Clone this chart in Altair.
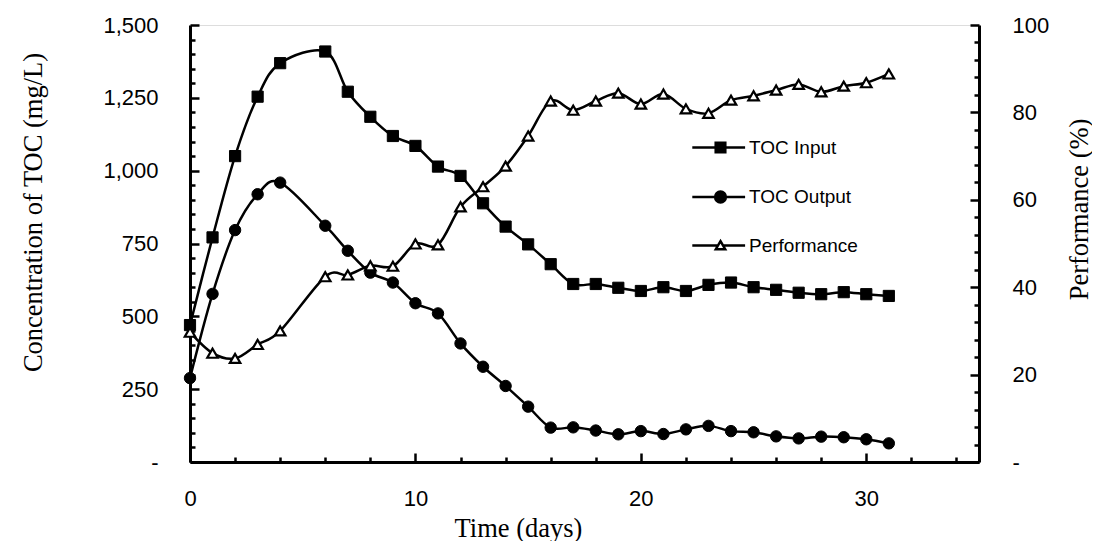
import altair as alt
import pandas as pd

# ---- data ----
days = [0, 1, 2, 3, 4, 6, 7, 8, 9, 10, 11, 12, 13, 14, 15, 16, 17, 18, 19, 20,
        21, 22, 23, 24, 25, 26, 27, 28, 29, 30, 31]
toc_input = [470, 771, 1050, 1254, 1369, 1409, 1271, 1185, 1119, 1085, 1014, 982,
             888, 808, 747, 679, 611, 611, 598, 587, 600, 587, 608, 616, 600, 591,
             581, 576, 583, 576, 570]
toc_output = [288, 577, 796, 919, 959, 811, 725, 650, 616, 545, 510, 407, 327, 261,
              190, 118, 119, 108, 95, 106, 96, 112, 124, 106, 102, 88, 81, 87, 85,
              78, 64]
performance = [29.7, 24.9, 23.7, 26.9, 30.0, 42.4, 42.8, 44.9, 44.8, 49.9, 49.7,
               58.4, 63.0, 67.7, 74.6, 82.6, 80.5, 82.6, 84.4, 81.9, 84.2, 80.8,
               79.8, 82.8, 83.8, 85.1, 86.4, 84.7, 86.0, 86.8, 88.8]
series_names = ["TOC Input", "TOC Output", "Performance"]

n = len(days)
toc_df = pd.DataFrame({
    "day": days + days,
    "value": toc_input + toc_output,
    "series": [series_names[0]] * n + [series_names[1]] * n,
})
perf_df = pd.DataFrame({"day": days, "value": performance, "series": series_names[2]})

LABEL_FONT = "Liberation Sans"
TITLE_FONT = "Liberation Serif"

common_axis = dict(
    grid=False, domainColor="black", domainWidth=3, tickColor="black", tickWidth=2.5,
    labelFont=LABEL_FONT, labelFontSize=22, labelColor="black", labelFlush=False,
    labelOverlap=False, titleFont=TITLE_FONT, titleFontSize=26.5,
    titleFontWeight="normal", titleColor="black",
)

x_axis = alt.Axis(
    values=list(range(0, 35, 2)),
    labelExpr="datum.value % 10 === 0 ? datum.label : ''",
    tickSize={"expr": "datum.value % 10 === 0 ? -9 : -5"},
    labelPadding=35, title="Time (days)",
    titleX=328, titleY=74, titleBaseline="alphabetic", titleAlign="center", titleAngle=0,
    **common_axis,
)
yl_axis = alt.Axis(
    values=list(range(0, 1501, 50)),
    labelExpr="datum.value % 250 === 0 ? (datum.value === 0 ? '-' : format(datum.value, ',')) : ''",
    tickSize={"expr": "datum.value % 250 === 0 ? -9 : -5"},
    labelPadding=41, orient="left", title="Concentration of TOC (mg/L)",
    titleX=-157, titleY=187, titleAngle=270, titleBaseline="middle", titleAlign="center",
    **common_axis,
)
yr_axis = alt.Axis(
    values=list(range(0, 101, 4)),
    labelExpr="datum.value % 20 === 0 ? (datum.value === 0 ? '-' : datum.label) : ''",
    tickSize={"expr": "datum.value % 20 === 0 ? -9 : -5"},
    labelPadding=42, orient="right", title="Performance (%)",
    titleX=108, titleY=184, titleAngle=270, titleBaseline="alphabetic", titleAlign="center",
    **common_axis,
)

X = alt.X("day:Q", scale=alt.Scale(domain=[0, 35], nice=False, zero=False), axis=x_axis)
YL = alt.Y("value:Q", scale=alt.Scale(domain=[0, 1500], nice=False), axis=yl_axis)
YR = alt.Y("value:Q", scale=alt.Scale(domain=[0, 100], nice=False), axis=yr_axis)

# legend glyphs: a line with the marker in the middle
SQ = "M-4.7,0H4.1M-0.8,-0.8H0.8V0.8H-0.8Z"
CI = "M-4.7,0H4.1M0.9,0A0.9,0.9,0,1,1,-0.9,0A0.9,0.9,0,1,1,0.9,0Z"
TR = "M-4.7,0H-0.42M0.42,0H4.1M0,-0.72L0.78,0.62H-0.78Z"

legend = alt.Legend(
    orient="none", legendX=521, legendY=113, title=None, padding=0,
    rowPadding=28.5, symbolSize=144, labelOffset=19, labelFont=LABEL_FONT,
    labelFontSize=19, labelColor="black", labelLimit=400,
    symbolStrokeColor="black", symbolStrokeWidth=2.5, symbolOpacity=1,
)

toc_base = alt.Chart(toc_df)
toc_line = toc_base.mark_line(color="black", strokeWidth=2.5, interpolate="cardinal").encode(
    x=X, y=YL, detail="series:N")
in_pts = toc_base.transform_filter(alt.datum.series == series_names[0]).mark_point(
    shape="square", size=125, fill="black", stroke="black", strokeWidth=1, opacity=1
).encode(x=X, y=YL)
out_pts = toc_base.transform_filter(alt.datum.series == series_names[1]).mark_point(
    shape="circle", size=130, fill="black", stroke="black", strokeWidth=1, opacity=1
).encode(x=X, y=YL)

perf_base = alt.Chart(perf_df)
perf_line = perf_base.mark_line(color="black", strokeWidth=2.5, interpolate="cardinal").encode(
    x=X, y=YR)
perf_pts = perf_base.mark_point(
    shape="triangle-up", size=110, fill="white", stroke="black", strokeWidth=2.2, opacity=1
).encode(x=X, y=YR)

# legend-only layer (no marks drawn, only its legend)
legend_layer = alt.Chart(perf_df).transform_filter("false").mark_point(
    strokeWidth=2.5, opacity=1
).encode(
    shape=alt.Shape("series:N", scale=alt.Scale(domain=series_names, range=[SQ, CI, TR]),
                    legend=legend),
    fill=alt.Fill("series:N", scale=alt.Scale(domain=series_names,
                                              range=["black", "black", "white"]),
                  legend=legend),
    stroke=alt.Stroke("series:N", scale=alt.Scale(domain=series_names,
                                                  range=["black", "black", "black"]),
                      legend=legend),
)

chart = alt.layer(
    alt.layer(toc_line, in_pts, out_pts),
    alt.layer(perf_line, perf_pts),
    legend_layer,
).resolve_scale(y="independent").properties(
    width=789, height=437,
    padding={"left": 182, "top": 17, "right": 113, "bottom": 79},
    autosize=alt.AutoSizeParams(type="none"),
).configure_view(stroke=None).configure(background="white")

chart.save("out.html", embed_options={"renderer": "svg", "actions": False})
